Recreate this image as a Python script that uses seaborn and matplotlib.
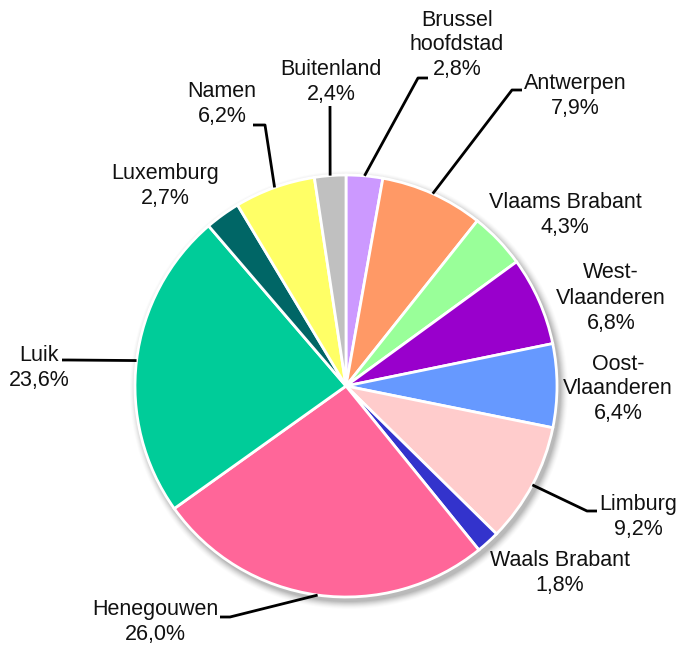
import numpy as np
import matplotlib
matplotlib.use("Agg")
import matplotlib.pyplot as plt
import seaborn as sns
from matplotlib.patches import Circle

# ----------------------------------------------------------
# DATA
# ----------------------------------------------------------
regions = ["Brussel\nhoofdstad", "Antwerpen", "Vlaams Brabant", "West-\nVlaanderen",
           "Oost-\nVlaanderen", "Limburg", "Waals Brabant", "Henegouwen", "Luik",
           "Luxemburg", "Namen", "Buitenland"]
shares = [2.8, 7.9, 4.3, 6.8, 6.4, 9.2, 1.8, 26.0, 23.6, 2.7, 6.2, 2.4]
pct_labels = ["2,8%", "7,9%", "4,3%", "6,8%", "6,4%", "9,2%", "1,8%", "26,0%",
              "23,6%", "2,7%", "6,2%", "2,4%"]
colors = ["#CC99FF", "#FF9966", "#99FF99", "#9900CC", "#6699FF", "#FFCCCC",
          "#3333CC", "#FF6699", "#00CC99", "#006666", "#FFFF66", "#C0C0C0"]

# ----------------------------------------------------------
# LAYOUT (pixel coords, y measured from top)
# ----------------------------------------------------------
W, H = 681, 646
CX, CY, R = 346, 386, 211
label_pos = [(457, 45), (575, 96), (565, 215), (611, 298), (618, 389), (638, 517),
             (560, 573), (155, 622), (39, 368), (165, 186), (222, 104), (331, 82)]
# leader: (elbow, end) or None
leaders = [((418, 78), (428, 78)), ((512, 90), (522, 90)), None, None, None,
           ((587, 511), (597, 511)), None, ((230, 617), (220, 617)),
           ((68, 360), (62, 360)), None, ((265, 125), (253, 125)), ((330, 106), (330, 106))]

sns.set_theme(style="white")
plt.rcParams["font.family"] = ["Liberation Sans", "DejaVu Sans"]

fig = plt.figure(figsize=(W / 100, H / 100), dpi=100)
ax = fig.add_axes([0, 0, 1, 1])

def fy(y):
    return H - y

# soft shadow
for k, a in zip(range(8, 0, -1), np.linspace(0.015, 0.06, 8)):
    ax.add_patch(Circle((CX + 3, fy(CY) - 4), R + k, color="black", alpha=a, lw=0, zorder=0))

pal = sns.color_palette(colors)
wedges, _ = ax.pie(shares, colors=pal, startangle=90, counterclock=False,
                   radius=R, center=(CX, fy(CY)), frame=True,
                   wedgeprops=dict(edgecolor="white", linewidth=2))
ax.set_xlim(0, W)
ax.set_ylim(0, H)
ax.set_aspect("equal")
ax.axis("off")

for w, name, pct, pos, ld in zip(wedges, regions, pct_labels, label_pos, leaders):
    ax.text(pos[0], fy(pos[1]), f"{name}\n{pct}", ha="center", va="center",
            fontsize=15.5, color="#111111", linespacing=1.25, zorder=5)
    if ld is not None:
        ang = np.deg2rad((w.theta1 + w.theta2) / 2)
        x0 = CX + R * np.cos(ang)
        y0 = fy(CY) + R * np.sin(ang)
        (ex, ey), (tx, ty) = ld
        ax.plot([x0, ex, tx], [y0, fy(ey), fy(ty)], color="black", lw=2, zorder=4,
                solid_capstyle="butt")

fig.savefig("out.png", dpi=100, facecolor="white")
